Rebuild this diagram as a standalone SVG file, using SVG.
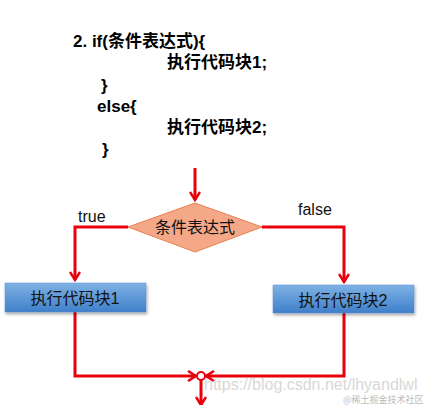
<svg xmlns="http://www.w3.org/2000/svg" width="424" height="405" viewBox="0 0 424 405">
<style>
.code{font-family:"Liberation Sans","Noto Sans CJK SC",sans-serif;font-size:17px;font-weight:bold;fill:#000}
.lbl{font-family:"Liberation Sans","Noto Sans CJK SC",sans-serif;font-size:16px;fill:#111}
.box{fill:url(#blue);stroke:#5b8fcf;stroke-width:0.5;filter:url(#sh)}
.ln{fill:none;stroke:#e8000b;stroke-width:3;stroke-linejoin:miter}
.wm{font-family:"Liberation Sans",sans-serif;font-size:16px;fill:#d8d8d8}
</style>
<defs>
<linearGradient id="blue" x1="0" y1="0" x2="0" y2="1">
<stop offset="0" stop-color="#7fb2e4"/>
<stop offset="1" stop-color="#3f7fca"/>
</linearGradient>
<filter id="sh" x="-10%" y="-20%" width="120%" height="160%">
<feDropShadow dx="1" dy="2" stdDeviation="1.5" flood-color="#000" flood-opacity="0.35"/>
</filter>
<marker id="ar" markerWidth="12" markerHeight="12" refX="9" refY="6" orient="auto" markerUnits="userSpaceOnUse">
<path d="M1,1 L9,6 L1,11" fill="none" stroke="#e8000b" stroke-width="2.5"/>
</marker>
</defs>
<g id="code">
<text class="code" x="73" y="47">2.  if(条件表达式){</text>
<text class="code" x="167" y="68">执行代码块1;</text>
<text class="code" x="101" y="91">}</text>
<text class="code" x="97" y="112">else{</text>
<text class="code" x="167" y="133">执行代码块2;</text>
<text class="code" x="102" y="155">}</text>
</g>
<g id="connectors">
<line class="ln" x1="195" y1="168" x2="195" y2="200" marker-end="url(#ar)"/>
<polyline class="ln" points="128,227 75,227 75,280" marker-end="url(#ar)"/>
<polyline class="ln" points="262,227 344,227 344,282" marker-end="url(#ar)"/>
<polyline class="ln" points="75,312 75,376 196,376" marker-end="url(#ar)"/>
<polyline class="ln" points="344,313 344,376 206,376" marker-end="url(#ar)"/>
<line class="ln" x1="201" y1="380" x2="201" y2="405" marker-end="url(#ar)"/>
<circle cx="201" cy="376" r="4" fill="#fff" stroke="#e8000b" stroke-width="2"/>
</g>
<g id="cond">
<polygon points="195,203 262,227 195,252 128,227" fill="#f5a887" stroke="#e8804f" stroke-width="1"/>
<text class="lbl" x="195" y="233" text-anchor="middle">条件表达式</text>
</g>
<text class="lbl" x="78" y="222" font-size="15">true</text>
<text class="lbl" x="298" y="215" font-size="15">false</text>
<g id="block1">
<rect class="box" x="5" y="283" width="141" height="29"/>
<text class="lbl" x="75" y="304" text-anchor="middle" font-size="17">执行代码块1</text>
</g>
<g id="block2">
<rect class="box" x="273" y="285" width="141" height="28"/>
<text class="lbl" x="343" y="306" text-anchor="middle" font-size="17">执行代码块2</text>
</g>
<text class="wm" x="204" y="390">https://blog.csdn.net/lhyandlwl</text>
<text x="343" y="403" font-family="'Noto Sans CJK SC',sans-serif" font-size="9" fill="#bbb">@稀土掘金技术社区</text>
</svg>
